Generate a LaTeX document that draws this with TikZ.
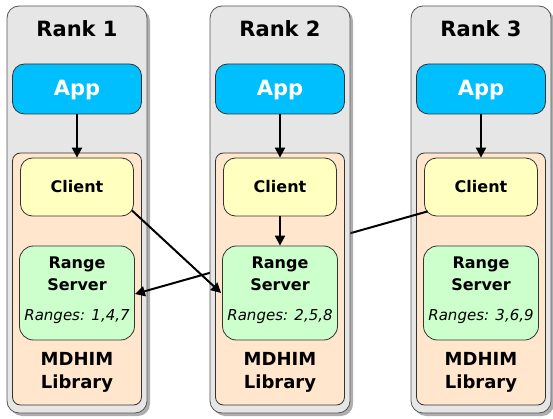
\documentclass[tikz,border=0pt]{standalone}
\usepackage{fontspec}
\setmainfont{DejaVu Sans}
\usetikzlibrary{shadows,arrows.meta,calc}
\definecolor{rankgray}{HTML}{E6E6E6}
\definecolor{rankborder}{HTML}{555555}
\definecolor{appblue}{HTML}{00BFFF}
\definecolor{libfill}{HTML}{FFE6CC}
\definecolor{clientfill}{HTML}{FFFFC0}
\definecolor{rsfill}{HTML}{CCFFCC}
\tikzset{
  rankbox/.style={draw=rankborder, line width=0.8pt, fill=rankgray, rounded corners=12pt,
    minimum width=140pt, minimum height=407pt, inner sep=0pt,
    drop shadow={shadow xshift=3pt, shadow yshift=-3pt, opacity=0.45, fill=black!70}},
  appbox/.style={draw=black!80, line width=0.8pt, fill=appblue, rounded corners=12pt,
    minimum width=129pt, minimum height=50pt, inner sep=0pt},
  libbox/.style={draw=black!80, line width=0.8pt, fill=libfill, rounded corners=8pt,
    minimum width=129pt, minimum height=252pt, inner sep=0pt},
  clientbox/.style={draw=black!80, line width=0.8pt, fill=clientfill, rounded corners=12pt,
    minimum width=113pt, minimum height=58pt, inner sep=0pt},
  rsbox/.style={draw=black!80, line width=0.8pt, fill=rsfill, rounded corners=14pt,
    minimum width=115pt, minimum height=94pt, inner sep=0pt},
  titletxt/.style={anchor=base, inner sep=0pt, font=\fontsize{21}{25}\selectfont\bfseries},
  apptxt/.style={anchor=base, inner sep=0pt, text=white, font=\fontsize{21}{25}\selectfont\bfseries},
  midtxt/.style={anchor=base, inner sep=0pt, font=\fontsize{16}{19}\selectfont\bfseries},
  rangetxt/.style={anchor=base, inner sep=0pt, font=\fontsize{15}{18}\selectfont\itshape},
  libtxt/.style={anchor=base, inner sep=0pt, font=\fontsize{18}{22}\selectfont\bfseries},
  conn/.style={line width=2pt, -{Triangle[length=10pt,width=10pt]}},
}
\newcommand{\rankcol}[3]{%
  \node[rankbox] (rank#1) at (#2,209.5) {};
  \node[titletxt] (title#1) at (#2,37) {Rank #1};
  \node[appbox] (app#1) at (#2,89) {};
  \node[apptxt] (apptext#1) at (#2,96) {App};
  \node[libbox] (lib#1) at (#2,279) {};
  \node[clientbox] (cl#1) at (#2,187) {};
  \node[midtxt] (cltext#1) at (#2,193) {Client};
  \node[rsbox] (rs#1) at (#2,293) {};
  \node[midtxt] (rstexta#1) at (#2,269) {Range};
  \node[midtxt] (rstextb#1) at (#2,290.5) {Server};
  \node[rangetxt] (rstextc#1) at (#2,320.5) {Ranges: #3};
  \node[libtxt] (libtexta#1) at (#2,365) {MDHIM};
  \node[libtxt] (libtextb#1) at (#2,388) {Library};
  \draw[conn] (app#1) -- (cl#1);
}
\begin{document}
\begin{tikzpicture}[x=1pt,y=-1pt]
\useasboundingbox (0,0) rectangle (553,419);
\rankcol{1}{77}{1,4,7}
\rankcol{3}{481}{3,6,9}
\draw[conn] ($(cl3.south west)+(3.5,-5)$) -- ($(rs1.east)+(0,1)$);
\rankcol{2}{280}{2,5,8}
\draw[conn] (cl2) -- (rs2);
\draw[conn] ($(cl1.south east)+(-2,-6)$) -- ($(rs2.west)+(-1,0)$);
\end{tikzpicture}
\end{document}
